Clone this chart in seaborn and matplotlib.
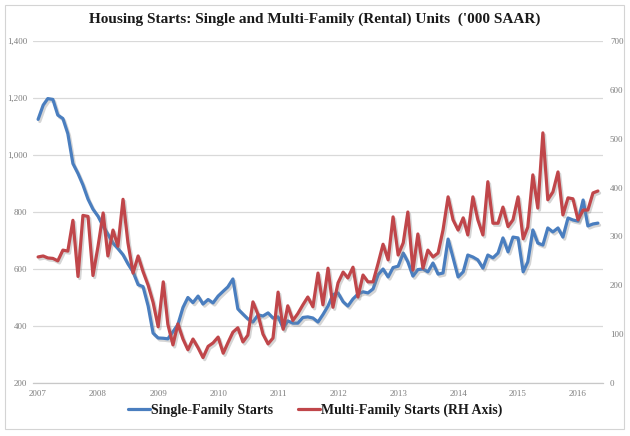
import numpy as np
import pandas as pd
import matplotlib
matplotlib.use("Agg")
import matplotlib.pyplot as plt
import matplotlib.patheffects as pe
from matplotlib.patches import Rectangle
from matplotlib.ticker import FuncFormatter
import seaborn as sns

# ---- data ----
start_month = "2007-01"
single_family = [
    1125, 1175, 1198, 1195, 1140, 1128, 1075, 970, 935, 895,
    845, 810, 785, 750, 722, 691, 672, 650, 618, 590,
    545, 538, 470, 375, 358, 357, 355, 380, 405, 465,
    500, 482, 505, 477, 493, 481, 505, 522, 537, 565,
    460, 442, 425, 414, 439, 435, 446, 428, 432, 393,
    418, 410, 410, 430, 432, 428, 414, 440, 470, 510,
    516, 485, 470, 495, 512, 520, 516, 530, 580, 600,
    572, 605, 610, 656, 625, 575, 598, 600, 590, 621,
    582, 586, 705, 640, 572, 590, 649, 642, 632, 603,
    649, 639, 656, 709, 660, 712, 709, 590, 625, 737,
    691, 684, 744, 730, 744, 712, 779, 772, 768, 842,
    751, 758, 761,
]
multi_family = [
    258, 260, 256, 255, 250, 272, 270, 333, 218, 343,
    341, 220, 280, 348, 260, 313, 280, 376, 287, 225,
    260, 228, 200, 165, 115, 207, 120, 78, 121, 90,
    68, 90, 72, 52, 75, 82, 94, 61, 82, 104,
    113, 84, 98, 166, 140, 100, 80, 92, 186, 110,
    158, 128, 142, 160, 176, 156, 225, 160, 235, 155,
    205, 227, 215, 237, 176, 221, 207, 207, 245, 284,
    252, 340, 262, 287, 350, 231, 305, 235, 272, 258,
    266, 313, 381, 334, 313, 338, 303, 381, 334, 303,
    412, 327, 327, 360, 320, 334, 381, 295, 319, 426,
    358, 512, 375, 391, 432, 344, 379, 377, 334, 354,
    354, 389, 393,
]
year_labels = [str(y) for y in range(2007, 2017)]
title = "Housing Starts: Single and Multi-Family (Rental) Units  ('000 SAAR)"
label_single = "Single-Family Starts"
label_multi = "Multi-Family Starts (RH Axis)"

dates = pd.date_range(start_month, periods=len(single_family), freq="MS")
df = pd.DataFrame({"date": dates, "single": single_family, "multi": multi_family})

# ---- style ----
sns.set_theme(style="white")
plt.rcParams["font.family"] = ["Liberation Serif", "DejaVu Serif"]

BLUE = "#4a7ebf"
RED = "#c0464a"
GRID = "#d9d9d9"
TICK = "#7f7f7f"

W, H = 630, 436
fig = plt.figure(figsize=(W / 100, H / 100), dpi=100)
fig.patch.set_facecolor("white")

# frame around whole chart
fig.patches.append(Rectangle((5 / W, 1 - 429 / H), 619 / W, 424 / H,
                             transform=fig.transFigure, fill=False,
                             edgecolor="#d4d4d4", linewidth=0.8))

left_px, right_px, top_px, bot_px = 33, 603, 41, 383
ax = fig.add_axes([left_px / W, 1 - bot_px / H, (right_px - left_px) / W,
                   (bot_px - top_px) / H])
ax2 = ax.twinx()

shadow = [pe.SimpleLineShadow(offset=(1.2, -1.5), shadow_color="#888888", alpha=0.35),
          pe.Normal()]

sns.lineplot(data=df, x="date", y="single", ax=ax, color=BLUE, linewidth=2.3,
             legend=False)
sns.lineplot(data=df, x="date", y="multi", ax=ax2, color=RED, linewidth=2.3,
             legend=False)
for a in (ax, ax2):
    for ln in a.get_lines():
        ln.set_path_effects(shadow)
        ln.set_solid_joinstyle("round")

# axis limits: month before first to month after last
xmin = dates[0] - pd.DateOffset(months=1)
xmax = dates[-1] + pd.DateOffset(months=1)
ax.set_xlim(xmin, xmax)
ax.set_ylim(200, 1400)
ax2.set_ylim(0, 700)

ax.set_yticks(np.arange(200, 1401, 200))
ax2.set_yticks(np.arange(0, 701, 100))
ax.yaxis.set_major_formatter(FuncFormatter(lambda v, p: f"{int(v):,}"))
ax2.yaxis.set_major_formatter(FuncFormatter(lambda v, p: f"{int(v)}"))

year_ticks = pd.to_datetime([f"{y}-01-01" for y in year_labels])
ax.set_xticks(year_ticks)
ax.set_xticklabels(year_labels)

ax.grid(axis="y", color=GRID, linewidth=0.9)
ax.set_axisbelow(True)
ax2.grid(False)

for a in (ax, ax2):
    for s in a.spines.values():
        s.set_visible(False)
ax.spines["bottom"].set_visible(True)
ax.spines["bottom"].set_color("#c8c8c8")
ax.spines["bottom"].set_linewidth(0.9)

ax.tick_params(axis="x", colors=TICK, labelsize=6.5, length=3, width=0.7,
               pad=2, direction="out", color="#c8c8c8")
ax.tick_params(axis="y", colors=TICK, labelsize=6.5, length=0, pad=4)
ax2.tick_params(axis="y", colors=TICK, labelsize=6.5, length=0, pad=5)
ax.set_xlabel("")
ax.set_ylabel("")
ax2.set_ylabel("")

fig.text(0.5, 1 - 19 / H, title, ha="center", va="center",
         fontsize=11, fontweight="bold", color="#1a1a1a")

handles = [plt.Line2D([], [], color=BLUE, linewidth=2.3),
           plt.Line2D([], [], color=RED, linewidth=2.3)]
leg = fig.legend(handles, [label_single, label_multi], loc="center",
                 bbox_to_anchor=(0.5, 1 - 410 / H), ncol=2, frameon=False,
                 prop={"weight": "bold", "size": 10}, handlelength=1.6,
                 handletextpad=0.05, columnspacing=1.8)
for t in leg.get_texts():
    t.set_color("#1a1a1a")

fig.savefig("out.png", dpi=100, facecolor="white")
